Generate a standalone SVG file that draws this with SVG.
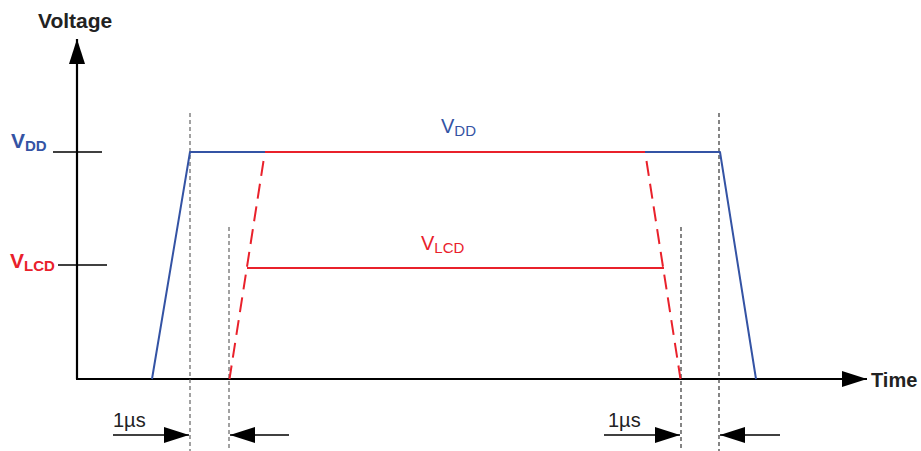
<svg xmlns="http://www.w3.org/2000/svg" width="921" height="451" viewBox="0 0 921 451">
<style>
  .ax { stroke:#000; stroke-width:2.2; fill:none; }
  .tick { stroke:#000; stroke-width:1.6; fill:none; }
  .blue { stroke:#3453a4; stroke-width:2; fill:none; stroke-linejoin:round; }
  .red { stroke:#e9212b; stroke-width:2; fill:none; }
  .reddash { stroke:#e9212b; stroke-width:2; fill:none; stroke-dasharray:15 8; }
  .guide { stroke:#444; stroke-width:1.1; fill:none; stroke-dasharray:4 3; }
  .dim { stroke:#000; stroke-width:1.6; fill:none; }
  .lbl { font-family:"Liberation Sans", Arial, sans-serif; }
  .b { font-weight:bold; }
</style>
<defs>
  <marker id="ah" viewBox="0 0 25 16" refX="25" refY="8" markerWidth="25" markerHeight="16" markerUnits="userSpaceOnUse" orient="auto">
    <path d="M0,0 L25,8 L0,16 Z" fill="#000"/>
  </marker>
</defs>
<g id="connectors">
  <g id="axes">
    <line class="ax" x1="77" y1="379" x2="77" y2="39" marker-end="url(#ah)"/>
    <line class="ax" x1="76" y1="379" x2="867" y2="379" marker-end="url(#ah)"/>
    <line class="tick" x1="53" y1="152" x2="102" y2="152"/>
    <line class="tick" x1="58" y1="265" x2="107" y2="265"/>
  </g>
  <g id="guides">
    <line class="guide" x1="190" y1="113" x2="190" y2="451" style="stroke:#555"/>
    <line class="guide" x1="229" y1="227" x2="229" y2="451" style="stroke:#555"/>
    <line class="guide" x1="681" y1="227" x2="681" y2="451" style="stroke:#222"/>
    <line class="guide" x1="719" y1="113" x2="719" y2="451" style="stroke:#222"/>
  </g>
  <g id="vdd-trace">
    <polyline class="blue" points="152,379 190,152 720,152 756,379"/>
  </g>
  <g id="vlcd-trace">
    <line class="red" x1="265" y1="152" x2="645" y2="152"/>
    <line class="red" x1="247" y1="268" x2="664" y2="268"/>
    <line class="reddash" x1="263.5" y1="161" x2="229.5" y2="379"/>
    <line class="reddash" x1="646.5" y1="161" x2="680.5" y2="379"/>
  </g>
  <g id="dimensions">
    <line class="dim" x1="113" y1="435" x2="189" y2="435" marker-end="url(#ah)"/>
    <line class="dim" x1="289" y1="435" x2="230" y2="435" marker-end="url(#ah)"/>
    <line class="dim" x1="604" y1="435" x2="680" y2="435" marker-end="url(#ah)"/>
    <line class="dim" x1="780" y1="435" x2="720" y2="435" marker-end="url(#ah)"/>
  </g>
</g>
<g id="labels">
  <text class="lbl b" x="38" y="28" font-size="21" fill="#222">Voltage</text>
  <text class="lbl b" x="871" y="387" font-size="20" fill="#222">Time</text>
  <text class="lbl b" x="11" y="148" font-size="21" fill="#3453a4">V<tspan font-size="15" dy="3">DD</tspan></text>
  <text class="lbl b" x="10" y="268" font-size="21" fill="#e9212b">V<tspan font-size="15" dy="3">LCD</tspan></text>
  <text class="lbl" x="441" y="133" font-size="20" fill="#3453a4">V<tspan font-size="15" dy="3">DD</tspan></text>
  <text class="lbl" x="421" y="250" font-size="20" fill="#e9212b">V<tspan font-size="15" dy="3">LCD</tspan></text>
  <text class="lbl" x="113" y="427" font-size="20" fill="#222">1µs</text>
  <text class="lbl" x="608" y="427" font-size="20" fill="#222">1µs</text>
</g>
</svg>
